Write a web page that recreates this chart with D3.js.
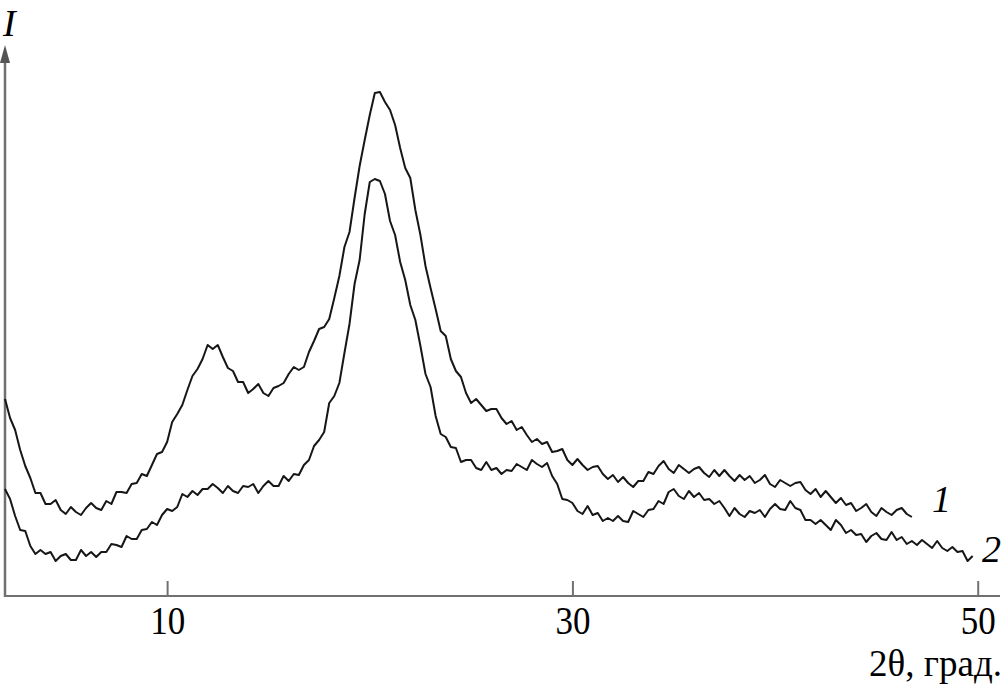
<!DOCTYPE html>
<html>
<head>
<meta charset="utf-8">
<script src="https://cdn.jsdelivr.net/npm/d3@7"></script>
<style>
  body { margin: 0; background: #fff; }
  svg { display: block; }
  text { font-family: "Liberation Serif", "DejaVu Serif", serif; fill: #000; }
</style>
</head>
<body>
<svg width="1008" height="700"></svg>
<script>
// 2θ grid of the scan, step 0.25 deg, start 2 deg
const start = 2;
const step = 0.25;
const xTicks = [10, 30, 50];

// curve 1 intensity (a.u.), 2.00 .. 46.75
const curve1 = [
  197, 178, 166, 146, 130, 118, 103, 103, 92, 92, 96, 86, 82, 89, 84, 81,
  88, 93, 88, 86, 95, 92, 104, 104, 103, 112, 113, 122, 120, 131, 142, 144,
  154, 174, 182, 191, 206, 220, 227, 237, 251, 247, 251, 239, 228, 225, 214, 214,
  203, 207, 212, 203, 200, 208, 210, 213, 222, 229, 226, 229, 244, 255, 267, 269,
  277, 298, 320, 349, 364, 398, 430, 456, 481, 503, 504, 494, 486, 471, 448, 428,
  418, 386, 361, 330, 308, 287, 265, 260, 237, 225, 219, 203, 193, 197, 191, 185,
  187, 187, 178, 172, 175, 166, 169, 161, 154, 157, 152, 154, 144, 145, 147, 136,
  131, 137, 131, 126, 129, 130, 122, 117, 121, 114, 119, 113, 109, 115, 115, 124,
  122, 130, 135, 127, 123, 131, 127, 123, 127, 129, 123, 119, 126, 120, 126, 120,
  115, 121, 116, 120, 113, 116, 121, 112, 109, 116, 113, 110, 113, 114, 106, 102,
  107, 99, 105, 99, 93, 98, 91, 93, 85, 88, 92, 84, 80, 88, 84, 81,
  86, 88, 82, 79
];

// curve 2 intensity (a.u.), 2.00 .. 49.75
const curve2 = [
  107, 97, 80, 66, 65, 50, 42, 46, 42, 44, 35, 40, 42, 36, 36, 46,
  40, 44, 39, 44, 44, 52, 51, 49, 60, 57, 57, 66, 67, 74, 71, 81,
  87, 85, 89, 102, 99, 105, 101, 107, 107, 112, 108, 103, 110, 105, 103, 110,
  109, 112, 103, 110, 115, 110, 110, 120, 115, 122, 121, 131, 136, 150, 156, 164,
  193, 200, 213, 243, 272, 312, 336, 382, 414, 417, 415, 402, 375, 361, 334, 316,
  291, 276, 250, 222, 209, 180, 162, 159, 149, 148, 134, 136, 136, 128, 126, 134,
  126, 128, 122, 126, 125, 132, 129, 126, 136, 132, 129, 133, 120, 112, 97, 96,
  93, 85, 82, 90, 81, 83, 75, 78, 75, 80, 75, 74, 85, 82, 79, 86,
  87, 95, 92, 104, 107, 100, 97, 105, 99, 103, 96, 97, 92, 95, 88, 80,
  88, 82, 79, 85, 83, 86, 79, 87, 92, 87, 86, 95, 88, 86, 76, 76,
  72, 76, 71, 66, 76, 71, 63, 66, 61, 62, 54, 60, 63, 57, 56, 64,
  56, 59, 52, 55, 51, 56, 52, 48, 55, 48, 45, 49, 44, 45, 35, 40
];

const svg = d3.select("svg");

const x = d3.scaleLinear().domain([2, 51.1]).range([5, 1000]);
const y = d3.scaleLinear().domain([0, 550]).range([596, 46]);

const toPoints = vals => vals.map((v, i) => [start + i * step, v]);

const line = d3.line()
    .x(d => x(d[0]))
    .y(d => y(d[1]));

svg.append('defs').append('filter')
    .attr('id', 'soft')
    .append('feGaussianBlur')
    .attr('stdDeviation', 0.6);

// axes
const axisColor = '#707070';

const xAxis = svg.append('g')
    .attr('transform', 'translate(0,596)')
    .call(d3.axisBottom(x).tickValues(xTicks).tickSize(-15).tickPadding(8).tickFormat(d3.format('d')));

xAxis.select('.domain').remove();
xAxis.selectAll('.tick line').attr('stroke', axisColor).attr('stroke-width', 2);
xAxis.selectAll('.tick text')
    .attr('font-size', 35)
    .attr('fill', '#000')
    .attr('transform', 'scale(1,1.17)');

svg.append('line')
    .attr('x1', 5).attr('x2', 1000)
    .attr('y1', 596).attr('y2', 596)
    .attr('stroke', axisColor).attr('stroke-width', 2);

svg.append('line')
    .attr('x1', 5).attr('x2', 5)
    .attr('y1', 597).attr('y2', 58)
    .attr('stroke', axisColor).attr('stroke-width', 2.5);

svg.append('path')
    .attr('d', 'M 5,45 L 10,63 L 0,63 Z')
    .attr('fill', '#555')
    .attr('filter', 'url(#soft)');

// curves
[curve1, curve2].forEach(vals => {
    svg.append('path')
        .datum(toPoints(vals))
        .attr('fill', 'none')
        .attr('stroke', '#151515')
        .attr('stroke-width', 2)
        .attr('stroke-linejoin', 'round')
        .attr('filter', 'url(#soft)')
        .attr('d', line);
});

// labels
svg.append('text')
    .attr('x', 3).attr('y', 36)
    .attr('font-size', 38)
    .attr('font-style', 'italic')
    .text('I');

svg.append('text')
    .attr('x', 1002).attr('y', 676)
    .attr('text-anchor', 'end')
    .attr('font-size', 37)
    .text('2θ, град.');

svg.append('text')
    .attr('x', 932).attr('y', 512)
    .attr('font-size', 38)
    .attr('font-style', 'italic')
    .text('1');

svg.append('text')
    .attr('x', 982).attr('y', 562)
    .attr('font-size', 38)
    .attr('font-style', 'italic')
    .text('2');
</script>
</body>
</html>
